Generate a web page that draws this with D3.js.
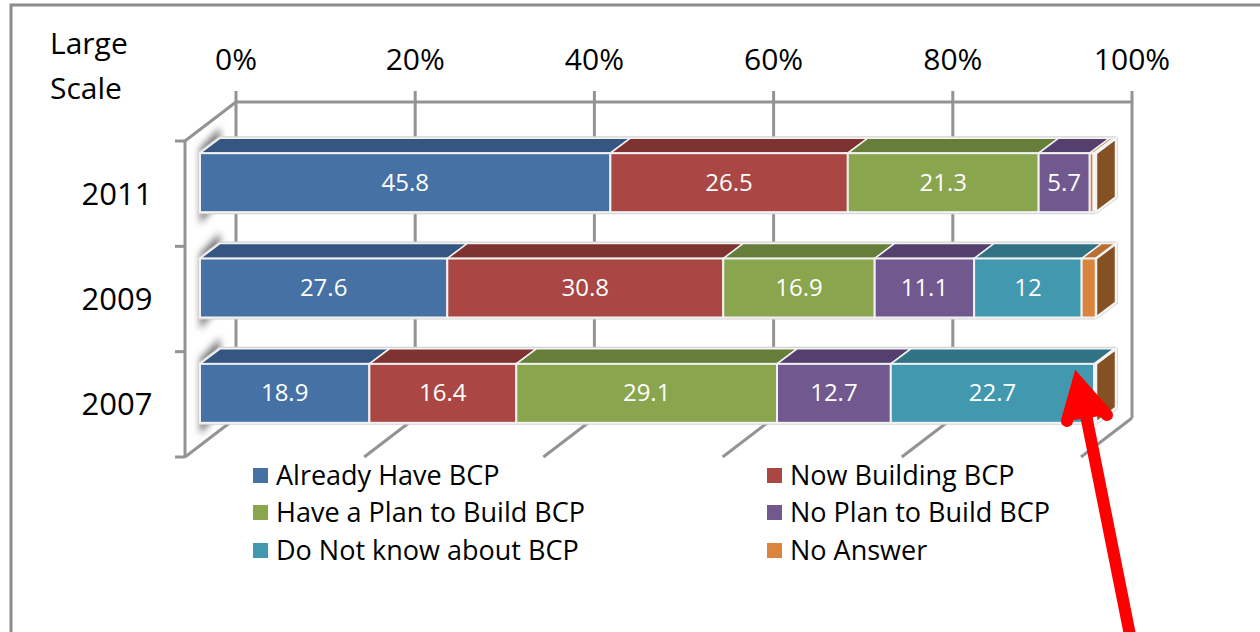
<!DOCTYPE html>
<html lang="en">
  <head>
    <meta charset="UTF-8" />
    <title>Large Scale BCP</title>
    <style>
      html, body { margin: 0; padding: 0; background: #fff; }
      svg { display: block; }
      text { font-family: "Open Sans", "Noto Sans", sans-serif; }
    </style>
    <script src="https://cdn.jsdelivr.net/npm/d3@7/dist/d3.min.js"></script>
  </head>
  <body>
    <div id="chart"></div>
    <script>
      const years = ["2011", "2009", "2007"];
      const seriesNames = [
        "Already Have BCP",
        "Now Building BCP",
        "Have a Plan to Build BCP",
        "No Plan to Build BCP",
        "Do Not know about BCP",
        "No Answer",
      ];
      // one array per series, same order as years
      const alreadyHave = [45.8, 27.6, 18.9];
      const nowBuilding = [26.5, 30.8, 16.4];
      const havePlan = [21.3, 16.9, 29.1];
      const noPlan = [5.7, 11.1, 12.7];
      const doNotKnow = [0, 12, 22.7];
      const noAnswer = [0.4, 1.6, 0.2];
      const xTicks = [0, 20, 40, 60, 80, 100];

      const faceColors = ["#4571a5", "#aa4643", "#89a54e", "#71588f", "#4198af", "#db843d"];
      const topColors = ["#345681", "#7e3231", "#677d3a", "#553f6c", "#317284", "#b86f31"];
      const capColor = "#855122";

      const width = 1260, height = 632;
      // oblique offset of the wall and of a bar's depth
      const wall = { dx: 51, dy: -39 };
      const depth = { dx: 20, dy: -15 };
      const serieValues = [alreadyHave, nowBuilding, havePlan, noPlan, doNotKnow, noAnswer];

      const svg = d3.select("#chart").append("svg").attr("width", width).attr("height", height);

      const defs = svg.append("defs");
      defs.append("filter").attr("id", "soft").attr("x", "-60%").attr("y", "-30%")
        .attr("width", "220%").attr("height", "160%")
        .append("feGaussianBlur").attr("stdDeviation", 3.5);

      // outer frame, cropped by the picture on the right and bottom
      svg.append("path")
        .attr("d", "M11,633V5H1261")
        .attr("fill", "none").attr("stroke", "#8c8c8c").attr("stroke-width", 3);

      // front plane scales
      const x = d3.scaleLinear().domain([0, 100]).range([200, 1096]);
      const wallTop = 141, wallBottom = 457;
      const yAxis = d3.scaleBand().domain(years).range([wallTop, wallBottom]);
      const yBand = d3.scaleBand().domain(years).range([130, 446]).paddingInner(0.44).paddingOuter(0.22);
      const wallX = (v) => x(v) - 15; // floor front edge sits left of the bars

      const grey = "#939393";
      const g = svg.append("g").attr("fill", "none").attr("stroke", grey).attr("stroke-width", 3);

      // back wall grid lines and top axis ticks
      xTicks.forEach((t) => {
        const bx = wallX(t) + wall.dx;
        g.append("line").attr("x1", bx).attr("x2", bx)
          .attr("y1", wallTop + wall.dy - 11).attr("y2", wallBottom + wall.dy);
        // floor lines
        g.append("line").attr("x1", bx).attr("x2", wallX(t))
          .attr("y1", wallBottom + wall.dy).attr("y2", wallBottom);
      });
      g.append("line")
        .attr("x1", wallX(0) + wall.dx).attr("x2", wallX(100) + wall.dx)
        .attr("y1", wallTop + wall.dy).attr("y2", wallTop + wall.dy);
      g.append("line").attr("x1", wallX(0)).attr("x2", wallX(0)).attr("y1", wallTop).attr("y2", wallBottom);
      g.append("line").attr("x1", wallX(0)).attr("x2", wallX(0) + wall.dx)
        .attr("y1", wallTop).attr("y2", wallTop + wall.dy);

      // left axis ticks
      d3.range(years.length + 1).forEach((i) => {
        const ty = wallTop + i * yAxis.step();
        g.append("line").attr("x1", wallX(0) - 10).attr("x2", wallX(0)).attr("y1", ty).attr("y2", ty);
      });

      // bar shadows on the side wall
      years.forEach((yr) => {
        const by = yBand(yr), bh = yBand.bandwidth();
        svg.append("path")
          .attr("d", d3.line()([
            [x(0), by - 5],
            [x(0) + depth.dx, by - 26],
            [x(0) + depth.dx, by + bh - 12],
            [x(0), by + bh + 12],
          ]) + "Z")
          .attr("fill", "#777")
          .attr("filter", "url(#soft)");
      });

      // bars
      years.forEach((yr, yi) => {
        const by = yBand(yr), bh = yBand.bandwidth();
        const rows = d3.cumsum(serieValues.map((s) => s[yi]));
        const bar = svg.append("g");

        // white halo round the whole block
        bar.append("path")
          .attr("d", d3.line()([
            [x(0), by], [x(0) + depth.dx, by + depth.dy], [x(100) + depth.dx, by + depth.dy],
            [x(100) + depth.dx, by + bh + depth.dy], [x(100), by + bh], [x(0), by + bh],
          ]) + "Z")
          .attr("fill", "#fff").attr("stroke", "#d4d4d4").attr("stroke-width", 4).attr("stroke-linejoin", "round");

        serieValues.forEach((s, si) => {
          const v = s[yi];
          if (!v) return;
          const x0 = x(rows[si] - v), x1 = x(rows[si]);
          bar.append("path")
            .attr("d", d3.line()([
              [x0, by], [x0 + depth.dx, by + depth.dy], [x1 + depth.dx, by + depth.dy], [x1, by],
            ]) + "Z")
            .attr("fill", topColors[si]).attr("stroke", "#f4f4f4").attr("stroke-width", 1.5);
          bar.append("rect")
            .attr("x", x0).attr("y", by)
            .attr("width", x1 - x0).attr("height", bh)
            .attr("fill", faceColors[si]).attr("stroke", "#f2f2f2").attr("stroke-width", 2);
          if (si < 5) {
            bar.append("text")
              .attr("x", (x0 + x1) / 2).attr("y", by + bh / 2 + 8)
              .attr("text-anchor", "middle").attr("fill", "#fff").attr("font-size", 24)
              .text(v);
          }
        });

        // right end of the stack
        bar.append("path")
          .attr("d", d3.line()([
            [x(100), by], [x(100) + depth.dx, by + depth.dy],
            [x(100) + depth.dx, by + bh + depth.dy], [x(100), by + bh],
          ]) + "Z")
          .attr("fill", capColor).attr("stroke", "#f4f4f4").attr("stroke-width", 2.5);
      });

      // axis labels
      xTicks.forEach((t) => {
        svg.append("text")
          .attr("x", wallX(t) + wall.dx).attr("y", 70)
          .attr("text-anchor", "middle").attr("font-size", 30).attr("fill", "#000")
          .text(t + "%");
      });
      years.forEach((yr) => {
        svg.append("text")
          .attr("x", 117).attr("y", yAxis(yr) + yAxis.bandwidth() / 2 + 11)
          .attr("text-anchor", "middle").attr("font-size", 31).attr("fill", "#000")
          .text(yr);
      });
      svg.append("text").attr("x", 50).attr("y", 54).attr("font-size", 30).attr("fill", "#000").text("Large");
      svg.append("text").attr("x", 50).attr("y", 99).attr("font-size", 30).attr("fill", "#000").text("Scale");

      // legend
      const legendX = [253, 767];
      const legendY = [475, 512, 550];
      seriesNames.forEach((name, i) => {
        const lx = legendX[i % 2], ly = legendY[Math.floor(i / 2)];
        svg.append("rect").attr("x", lx).attr("y", ly - 7).attr("width", 15).attr("height", 15)
          .attr("fill", faceColors[i]);
        svg.append("text").attr("x", lx + 23).attr("y", ly + 10)
          .attr("font-size", 27).attr("fill", "#000").text(name);
      });

      // red annotation arrow
      const arrow = svg.append("g").attr("fill", "none").attr("stroke", "#ff0000")
        .attr("stroke-width", 12);
      arrow.append("line").attr("x1", 1131).attr("y1", 640).attr("x2", 1082).attr("y2", 395);
      arrow.append("path")
        .attr("d", "M1067,421L1078,382L1107,415")
        .attr("stroke-linecap", "round").attr("stroke-linejoin", "miter").attr("stroke-miterlimit", 6);
      arrow.append("path")
        .attr("d", "M1067,421L1078,382L1107,415Z").attr("stroke", "none").attr("fill", "#ff0000");
    </script>
  </body>
</html>
